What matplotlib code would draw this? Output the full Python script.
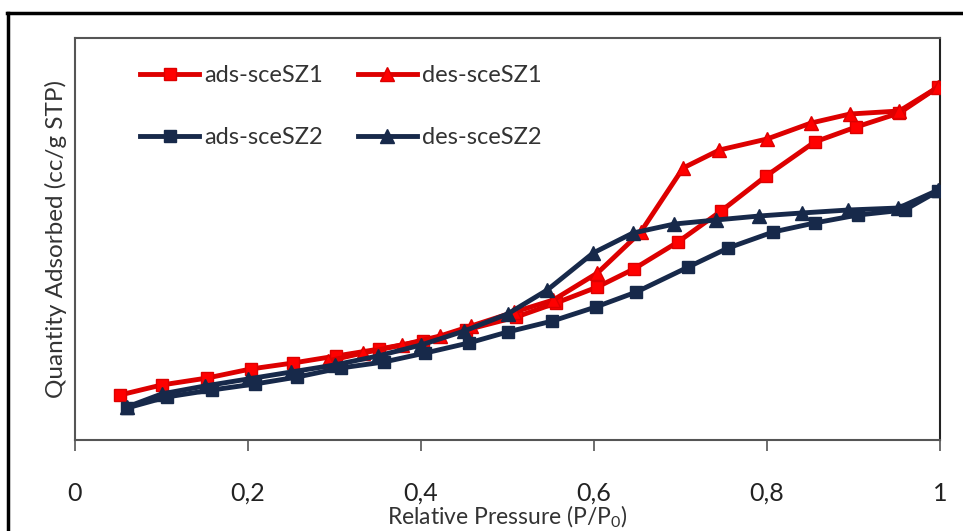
import matplotlib
matplotlib.use("Agg")
import matplotlib.pyplot as plt
from matplotlib.lines import Line2D

plt.rcParams['font.family'] = ['Lato', 'DejaVu Sans']

# Data (y in arbitrary units of quantity adsorbed)
ads1_x = [0.052, 0.10, 0.153, 0.203, 0.252, 0.302, 0.352, 0.402, 0.452, 0.51, 0.556, 0.604, 0.646, 0.697, 0.747, 0.799, 0.855, 0.903, 0.953, 0.998]
ads1_y = [45, 55, 62, 71, 77, 84, 91, 99, 110, 123, 137, 153, 171, 198, 229, 264, 298, 313, 327, 353]

des1_x = [0.998, 0.953, 0.896, 0.851, 0.80, 0.745, 0.703, 0.654, 0.604, 0.553, 0.508, 0.458, 0.422, 0.378, 0.333, 0.292]
des1_y = [353, 329, 326, 317, 301, 290, 272, 208, 167, 140, 128, 114, 104, 95, 87, 79]

ads2_x = [0.06, 0.106, 0.158, 0.208, 0.257, 0.307, 0.357, 0.405, 0.455, 0.50, 0.552, 0.602, 0.649, 0.709, 0.755, 0.807, 0.855, 0.905, 0.959, 0.998]
ads2_y = [32, 43, 50, 56, 63, 72, 78, 87, 97, 108, 119, 133, 148, 173, 192, 208, 217, 225, 230, 249]

des2_x = [0.998, 0.952, 0.894, 0.84, 0.791, 0.741, 0.693, 0.645, 0.599, 0.546, 0.50, 0.45, 0.40, 0.35, 0.30, 0.25, 0.20, 0.15, 0.10, 0.06]
des2_y = [250, 232, 230, 227, 224, 220, 216, 207, 187, 150, 126, 109, 95, 84, 75, 68, 61, 54, 46, 33]

xticks = [0, 0.2, 0.4, 0.6, 0.8, 1.0]
xtick_labels = ['0', '0,2', '0,4', '0,6', '0,8', '1']

W, H = 963, 531
fig = plt.figure(figsize=(W / 100, H / 100), dpi=100)
ax = fig.add_axes([75 / W, 1 - 440 / H, (940 - 75) / W, (440 - 38) / H])

red = '#dd0000'
red_face = '#ff0000'
navy = '#17294a'

l1, = ax.plot(ads1_x, ads1_y, color=red, lw=3.5, marker='s', ms=9, mfc=red_face, mec=red, label='ads-sceSZ1', zorder=3)
l2, = ax.plot(des1_x, des1_y, color=red, lw=3.5, marker='^', ms=10, mfc=red_face, mec=red, label='des-sceSZ1', zorder=3)
l3, = ax.plot(ads2_x, ads2_y, color=navy, lw=3.5, marker='s', ms=9, mfc=navy, mec=navy, label='ads-sceSZ2', zorder=3)
l4, = ax.plot(des2_x, des2_y, color=navy, lw=3.5, marker='^', ms=10, mfc=navy, mec=navy, label='des-sceSZ2', zorder=3)

ax.set_xlim(0, 1)
ax.set_ylim(0, 402)
ax.set_xticks(xticks)
ax.set_xticklabels(xtick_labels, fontsize=18, color='#222222')
ax.set_yticks([])
ax.tick_params(axis='x', direction='out', length=8, width=1.2, color='#555555', pad=22)
for s in ax.spines.values():
    s.set_color('#555555')
    s.set_linewidth(1.5)
ax.spines['right'].set_color('#222222')

ax.set_xlabel('Relative Pressure (P/P$_\\mathregular{0}$)', fontsize=16.5, color='#333333', labelpad=-1)
ax.set_ylabel('Quantity Adsorbed (cc/g STP)', fontsize=17.5, color='#333333', labelpad=6)

ax.legend([l1, l3, l2, l4], ['ads-sceSZ1', 'ads-sceSZ2', 'des-sceSZ1', 'des-sceSZ2'],
          ncol=2, frameon=False, loc='upper left',
          bbox_to_anchor=(140 / W, 1 - 65 / H), bbox_transform=fig.transFigure,
          fontsize=17, handlelength=2.5, handletextpad=0.2, columnspacing=1.5,
          labelspacing=1.75, borderpad=0, borderaxespad=0, labelcolor='#333333')

# outer frame (top and left visible)
fig.add_artist(Line2D([8 / W, 8 / W], [0, 1 - 13 / H], color='black', lw=2.5, transform=fig.transFigure))
fig.add_artist(Line2D([8 / W - 0.001, 1], [1 - 13 / H, 1 - 13 / H], color='black', lw=2.5, transform=fig.transFigure))

fig.savefig('out.png', dpi=100)
